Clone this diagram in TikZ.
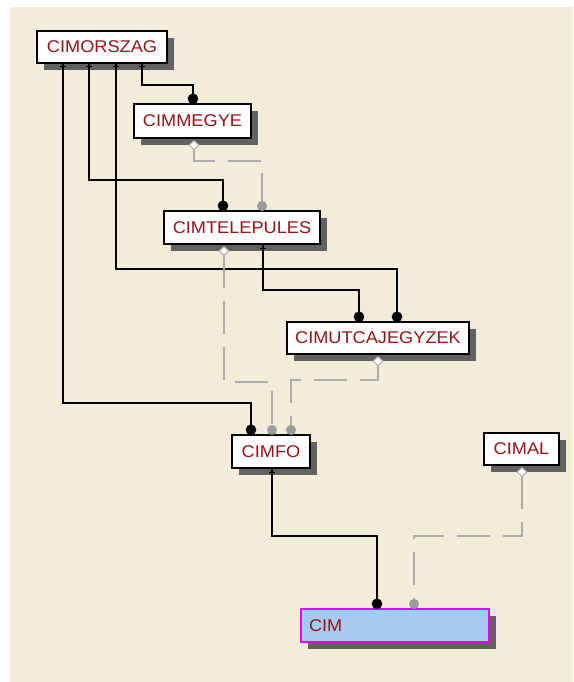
\documentclass[tikz,border=0pt]{standalone}
\usepackage{fontspec}
\setmainfont{Liberation Sans}[FakeStretch=1.07]
\usetikzlibrary{arrows.meta,shadows,calc}
\definecolor{bgbeige}{RGB}{242,236,219}
\definecolor{txtred}{RGB}{150,20,25}
\definecolor{lgray}{RGB}{172,172,172}
\definecolor{dgray}{RGB}{155,155,155}
\definecolor{cimblue}{RGB}{166,202,240}
\definecolor{cimmag}{RGB}{240,0,240}
\begin{document}
\begin{tikzpicture}[x=1pt,y=-1pt,
 tbl/.style={draw=black, line width=1.3pt, fill=white, text=txtred,
   font=\fontsize{17}{20}\selectfont, inner sep=0pt, outer sep=0pt,
   anchor=north west, minimum height=33pt,
   drop shadow={shadow xshift=7pt, shadow yshift=-7pt, fill=black!62, opacity=1}},
 rel/.style={draw=black, line width=1.3pt, -{Circle[length=10.5pt,width=10.5pt]}},
 nrel/.style={draw=lgray, line width=1.3pt, dash pattern=on 33pt off 13pt,
   {Diamond[length=10pt,width=11pt,color=lgray,fill=white,line width=0.9pt]}-{Circle[length=10pt,width=10pt,color=dgray]}},
 tick/.style={draw=black, line width=1pt}]
\fill[white] (0,0) rectangle (573,682);
\fill[bgbeige] (10,7) rectangle (573,682);
\useasboundingbox (0,0) rectangle (573,682);

% tables
\node[tbl, minimum width=130pt, minimum height=32pt] (orsz) at (37,31) {CIMORSZAG};
\node[tbl, minimum width=117pt, minimum height=34pt] (megye) at (134,104) {CIMMEGYE};
\node[tbl, minimum width=156pt] (telep) at (164,211) {CIMTELEPULES};
\node[tbl, minimum width=182pt, minimum height=32pt] (utca) at (287,322) {CIMUTCAJEGYZEK};
\node[tbl, minimum width=78pt] (fo) at (232,435) {CIMFO};
\node[tbl, minimum width=75pt, minimum height=32pt] (al) at (484,433) {CIMAL};
\node[tbl, draw=cimmag, fill=cimblue, minimum width=188pt, text width=172pt,
  align=left, inner xsep=8pt] (cim) at (301,609) {CIM};

% identifying relations (solid)
\draw[rel] (142,0 |- orsz.south) -- ++(0,22) -| (193,0 |- megye.north);
\draw[rel] (89,0 |- orsz.south) -- ++(0,117) -| (223,0 |- telep.north);
\draw[rel] (116,0 |- orsz.south) -- ++(0,206) -| (397,0 |- utca.north);
\draw[rel] (63,0 |- orsz.south) -- ++(0,340) -| (251,0 |- fo.north);
\draw[rel] (263,0 |- telep.south) -- ++(0,46) -| (359,0 |- utca.north);
\draw[rel] (272,0 |- fo.south) -- ++(0,68) -| (377,0 |- cim.north);

% one-side ticks
\draw[tick] ($(142,0 |- orsz.south)+(-3,4)$) -- ++(6,0);
\draw[tick] ($(116,0 |- orsz.south)+(-3,4)$) -- ++(6,0);
\draw[tick] ($(89,0 |- orsz.south)+(-3,4)$) -- ++(6,0);
\draw[tick] ($(63,0 |- orsz.south)+(-3,4)$) -- ++(6,0);
\draw[tick] ($(263,0 |- telep.south)+(-3,4)$) -- ++(6,0);
\draw[tick] ($(272,0 |- fo.south)+(-3,4)$) -- ++(6,0);

% non-identifying relations (dashed)
\draw[nrel] ($(194,0 |- megye.south)+(0,2)$) -- ++(0,21) -| (262,0 |- telep.north);
\draw[nrel] ($(224,0 |- telep.south)+(0,2)$) -- ++(0,136) -| (272,0 |- fo.north);
\draw[nrel] ($(378,0 |- utca.south)+(0,2)$) -- ++(0,24) -| (291,0 |- fo.north);
\draw[nrel] ($(522,0 |- al.south)+(0,2)$) -- ++(0,69) -| (414,0 |- cim.north);
\end{tikzpicture}
\end{document}
